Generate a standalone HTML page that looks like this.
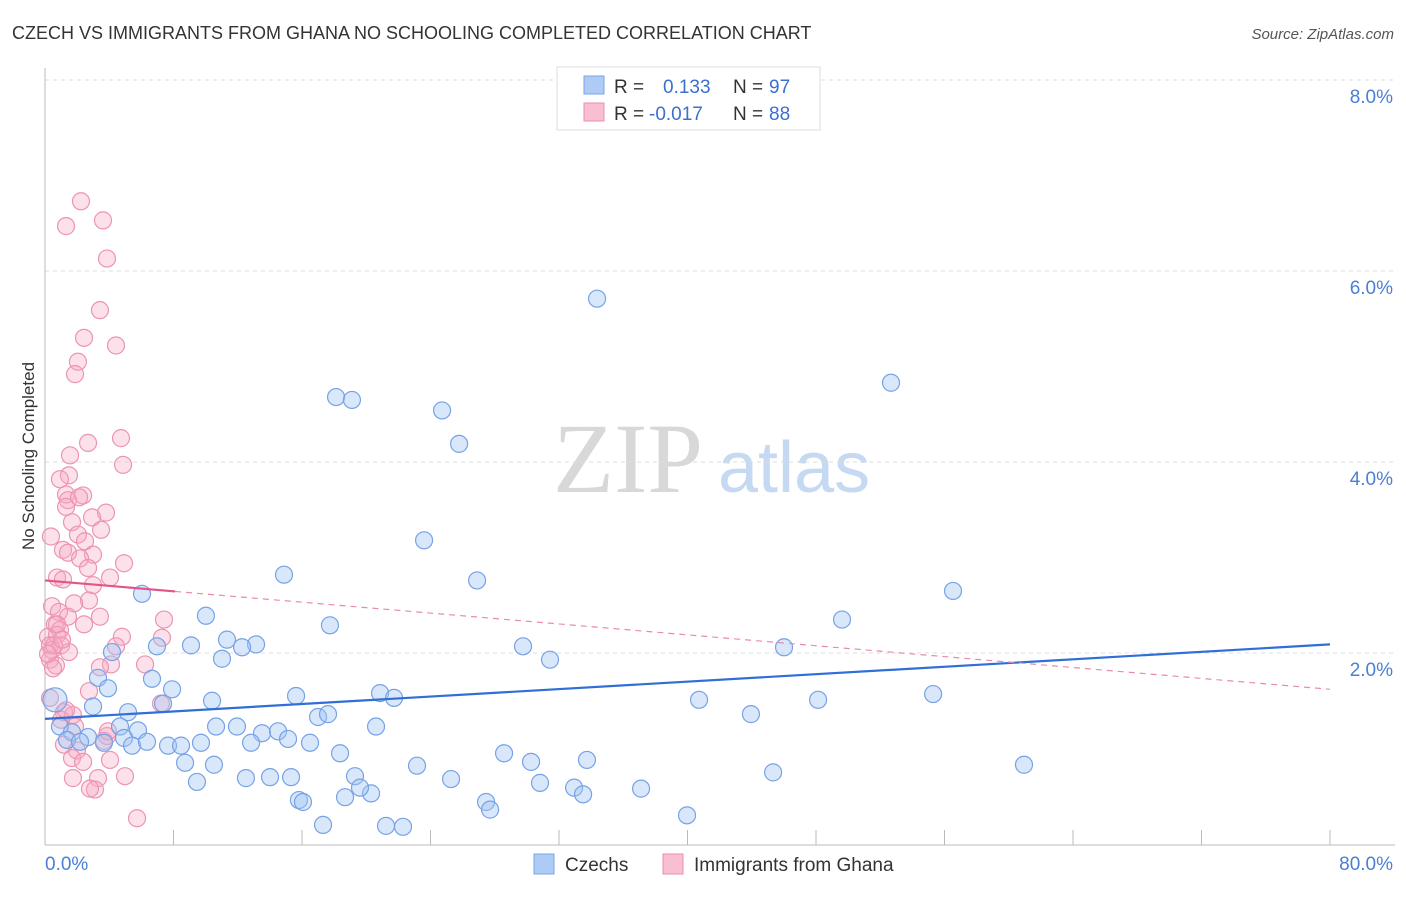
<!DOCTYPE html>
<html><head><meta charset="utf-8">
<style>
body{margin:0;background:#fff;font-family:"Liberation Sans",sans-serif;}
svg text{font-family:"Liberation Sans",sans-serif;}
</style></head>
<body>
<svg width="1406" height="892" viewBox="0 0 1406 892" xmlns="http://www.w3.org/2000/svg">
<text x="12" y="39" font-size="18" fill="#333">CZECH VS IMMIGRANTS FROM GHANA NO SCHOOLING COMPLETED CORRELATION CHART</text>
<text x="1394" y="39" font-size="15" fill="#555" text-anchor="end" font-style="italic">Source: ZipAtlas.com</text>
<g>
<text x="553" y="492" font-size="100" fill="#d8d8d8" style="font-family:'Liberation Serif',serif">ZIP</text>
<text x="718" y="492" font-size="72" fill="#c5d9f2">atlas</text>
</g>
<g id="grid"></g>
<g id="axes"></g>
<text transform="translate(34,456) rotate(-90)" font-size="17" fill="#333" text-anchor="middle">No Schooling Completed</text>
<g id="pinkpts"></g>
<g id="bluepts"></g>
<g id="trends"></g>
<g>
<rect x="557" y="67" width="263" height="63" fill="#fff" stroke="#ddd"/>
<rect x="584" y="76" width="20" height="18" fill="#aecbf5" stroke="#7aa5e8"/>
<rect x="584" y="103" width="20" height="18" fill="#f8bfd0" stroke="#eb8fae"/>
<text x="614" y="93" font-size="19" fill="#333">R = </text><text x="663" y="93" font-size="19" fill="#3a70d0">0.133</text>
<text x="733" y="93" font-size="19" fill="#333">N = </text><text x="769" y="93" font-size="19" fill="#3a70d0">97</text>
<text x="614" y="120" font-size="19" fill="#333">R = </text><text x="649" y="120" font-size="19" fill="#3a70d0">-0.017</text>
<text x="733" y="120" font-size="19" fill="#333">N = </text><text x="769" y="120" font-size="19" fill="#3a70d0">88</text>
</g>
<g>
<rect x="534" y="854" width="20" height="20" fill="#aecbf5" stroke="#7aa5e8"/>
<text x="565" y="871" font-size="19" fill="#333">Czechs</text>
<rect x="663" y="854" width="20" height="20" fill="#f8bfd0" stroke="#eb8fae"/>
<text x="694" y="871" font-size="19" fill="#333">Immigrants from Ghana</text>
</g>
</svg>
<script>
const blueX=[34.37,52.67,18.12,19.11,24.72,25.78,23.60,26.90,14.88,56.53,49.62,6.04,17.74,10.02,46.01,29.76,31.44,4.17,9.09,11.33,13.14,12.27,11.02,6.97,6.66,7.91,3.30,3.92,0.62,15.63,20.86,21.73,10.40,40.72,48.13,55.29,43.95,2.99,5.17,7.35,17.00,17.62,20.61,11.95,10.65,13.51,14.51,15.13,16.50,4.67,5.79,0.93,1.68,2.68,1.37,2.18,3.67,4.92,5.42,6.35,7.66,8.47,9.71,12.83,18.37,28.58,30.26,33.74,8.72,10.52,23.16,45.33,60.95,12.51,14.01,15.32,19.30,25.28,30.82,32.94,33.50,37.11,9.46,15.81,16.06,18.68,20.30,19.61,27.46,27.71,17.31,21.23,22.29,39.97];
const blueY=[5.71,4.83,4.68,4.65,4.54,4.19,3.18,2.76,2.82,2.65,2.35,2.62,2.29,2.39,2.06,2.07,1.93,2.01,2.08,2.14,2.09,2.06,1.94,2.07,1.73,1.62,1.74,1.63,1.51,1.55,1.58,1.53,1.50,1.51,1.51,1.57,1.36,1.44,1.38,1.47,1.33,1.36,1.23,1.23,1.23,1.16,1.18,1.10,1.06,1.23,1.19,1.23,1.17,1.12,1.09,1.07,1.06,1.11,1.03,1.07,1.03,1.03,1.06,1.06,0.95,0.95,0.86,0.88,0.85,0.83,0.82,0.75,0.83,0.69,0.70,0.70,0.71,0.68,0.64,0.59,0.52,0.58,0.65,0.46,0.44,0.49,0.53,0.59,0.44,0.36,0.20,0.19,0.18,0.30];
const pinkX=[2.24,1.31,3.61,3.86,3.42,2.43,4.42,2.05,1.87,4.73,2.68,4.86,1.56,1.49,0.93,1.31,2.37,1.43,2.12,1.31,3.80,2.93,1.68,3.49,2.05,2.49,0.37,1.12,2.99,1.43,2.18,4.92,2.68,0.75,1.12,4.05,2.99,2.74,1.81,0.44,0.87,1.43,3.42,7.41,0.62,2.43,0.93,0.19,0.75,4.79,7.28,0.31,0.44,4.42,1.00,0.31,0.68,4.11,3.42,6.23,0.50,1.49,2.74,7.22,1.18,1.74,1.00,1.87,3.86,3.67,1.18,1.99,1.68,2.37,4.05,1.74,3.30,4.98,3.11,2.80,5.73,0.31,3.92,1.31,0.56,0.75,1.06,0.19];
const pinkY=[6.73,6.47,6.53,6.13,5.59,5.30,5.22,5.05,4.92,4.25,4.20,3.97,4.07,3.86,3.82,3.66,3.65,3.60,3.63,3.53,3.47,3.42,3.37,3.29,3.24,3.17,3.22,3.08,3.03,3.05,2.99,2.94,2.89,2.79,2.77,2.79,2.71,2.55,2.52,2.49,2.43,2.38,2.38,2.35,2.30,2.30,2.24,2.17,2.19,2.17,2.16,2.08,2.03,2.07,2.08,1.93,1.87,1.88,1.85,1.88,1.84,2.01,1.60,1.47,1.38,1.35,1.30,1.23,1.13,1.08,1.04,0.98,0.90,0.86,0.88,0.69,0.69,0.71,0.57,0.58,0.27,1.53,1.18,1.40,2.08,2.30,2.14,1.99];
const yTicks=[2,4,6,8];
const yTickLabels=["2.0%","4.0%","6.0%","8.0%"];
const xTicks=[0,8,16,24,32,40,48,56,64,72,80];
const blueTrend=[1.31,2.09];
const pinkTrend=[2.76,1.62];
const pinkSolidEnd=8.1;

const NS="http://www.w3.org/2000/svg";
const xs=v=>45+v/80*1285;
const ys=v=>844-v*95.5;
function mk(tag,attrs,parent){const e=document.createElementNS(NS,tag);for(const k in attrs)e.setAttribute(k,attrs[k]);parent.appendChild(e);return e;}
const grid=document.getElementById('grid'),axes=document.getElementById('axes');
yTicks.forEach((t,i)=>{
 const l=mk('line',{x1:45,x2:1395,y1:ys(t),y2:ys(t),stroke:'#ddd','stroke-dasharray':'4,4'},grid);
 
 
 const tx=mk('text',{x:1393,y:ys(t)+23,'font-size':19,fill:'#4a7fd6','text-anchor':'end'},axes);
 tx.textContent=yTickLabels[i];
 
 
});
const topg=mk('line',{x1:45,x2:1395,y1:80,y2:80,stroke:'#ddd','stroke-dasharray':'4,4'},grid);


const xa=mk('line',{x1:45,x2:1395,y1:845,y2:845,stroke:'#bbb'},axes);


const ya=mk('line',{x1:45,x2:45,y1:68,y2:845,stroke:'#bbb'},axes);


xTicks.forEach(t=>{
 const l=mk('line',{x1:xs(t),x2:xs(t),y1:830,y2:845,stroke:'#bbb'},axes);
 
 
});
const xl0=mk('text',{x:45,y:870,'font-size':19,fill:'#4a7fd6'},axes);xl0.textContent='0.0%';


const xl1=mk('text',{x:1393,y:870,'font-size':19,fill:'#4a7fd6','text-anchor':'end'},axes);xl1.textContent='80.0%';



const pg=document.getElementById('pinkpts');
pinkX.forEach((x,i)=>{
 const c=mk('circle',{cx:xs(x),cy:ys(pinkY[i]),r:8.5,fill:'rgba(246,170,196,0.35)',stroke:'#ec94b3','stroke-width':1.2},pg);
 
 
});
const bg=document.getElementById('bluepts');
blueX.forEach((x,i)=>{
 const c=mk('circle',{cx:xs(x),cy:ys(blueY[i]),r:(i===28?12:8.5),fill:'rgba(160,195,242,0.4)',stroke:'#76a2e6','stroke-width':1.2},bg);
 
 
});
const tg=document.getElementById('trends');
const bt=mk('line',{x1:xs(0),y1:ys(blueTrend[0]),x2:xs(80),y2:ys(blueTrend[1]),stroke:'#2f6fd6','stroke-width':2.2},tg);


const pAt=x=>pinkTrend[0]+(pinkTrend[1]-pinkTrend[0])*x/80;
const pd=mk('line',{x1:xs(pinkSolidEnd),y1:ys(pAt(pinkSolidEnd)),x2:xs(80),y2:ys(pinkTrend[1]),stroke:'#ea8aab','stroke-width':1.2,'stroke-dasharray':'6,5'},tg);


const ps=mk('line',{x1:xs(0),y1:ys(pinkTrend[0]),x2:xs(pinkSolidEnd),y2:ys(pAt(pinkSolidEnd)),stroke:'#e2558a','stroke-width':2.2},tg);


</script>
</body></html>
